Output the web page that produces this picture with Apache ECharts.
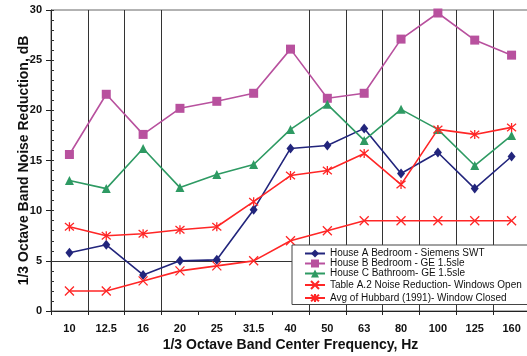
<!DOCTYPE html>
<html>
<head>
<meta charset="utf-8">
<script src="https://cdn.jsdelivr.net/npm/echarts@6/dist/echarts.min.js"></script>
<style>
  html, body { margin: 0; padding: 0; background: #fff; }
  #chart { width: 527px; height: 356px; }
</style>
</head>
<body>
<div id="chart"></div>
<script>
// 1/3 octave band centre frequencies (Hz)
const bands = ['10', '12.5', '16', '20', '25', '31.5', '40', '50', '63', '80', '100', '125', '160'];

// Noise reduction per band, dB
const houseA = [5.8, 6.6, 3.6, 5.0, 5.1, 10.1, 16.2, 16.5, 18.2, 13.7, 15.8, 12.2, 15.4];
const houseB = [15.6, 21.6, 17.6, 20.2, 20.9, 21.7, 26.1, 21.2, 21.7, 27.1, 29.7, 27.0, 25.5];
const houseC = [13.0, 12.2, 16.2, 12.3, 13.6, 14.6, 18.1, 20.6, 17.0, 20.1, 18.1, 14.5, 17.5];
const tableA2 = [2.0, 2.0, 3.0, 4.0, 4.5, 5.0, 7.0, 8.0, 9.0, 9.0, 9.0, 9.0, 9.0];
const hubbard = [8.4, 7.5, 7.7, 8.1, 8.4, 10.9, 13.5, 14.0, 15.7, 12.6, 18.1, 17.6, 18.3];

// Band boundaries that carry a vertical rule
const ruledBoundaries = [1, 2, 3, 7, 8, 9, 10, 11, 12];

const FONT = '"Liberation Sans", Arial, sans-serif';
const crossPath = 'path://M0,0L10,10M10,0L0,10';
const asteriskPath = 'path://M0,0L10,10M10,0L0,10M5,-1L5,11';

function lineSeries(name, data, color, symbol, size, extra) {
  const s = {
    name: name,
    type: 'line',
    data: data,
    symbol: symbol,
    symbolSize: size,
    lineStyle: { color: color, width: 1.6 },
    itemStyle: { color: color, borderColor: color, borderWidth: 0 },
    emphasis: { disabled: true },
    z: 3
  };
  return Object.assign(s, extra || {});
}

const chart = echarts.init(document.getElementById('chart'), null, { renderer: 'canvas' });

chart.setOption({
  animation: false,
  backgroundColor: '#fff',
  textStyle: { fontFamily: FONT },
  grid: {
    left: 51, top: 10, width: 479, height: 301,
    outerBoundsMode: 'none',
    containLabel: false,
    show: true, borderColor: '#666', borderWidth: 1, backgroundColor: 'transparent'
  },
  legend: {
    orient: 'vertical',
    left: 292, top: 245,
    padding: [3.5, 15, 0, 12],
    backgroundColor: '#fff',
    borderColor: '#444', borderWidth: 1,
    itemWidth: 20, itemHeight: 10, itemGap: 0,
    textStyle: { fontFamily: FONT, fontSize: 10, color: '#111', lineHeight: 10 },
    data: [
      'House A Bedroom - Siemens SWT',
      'House B Bedroom - GE 1.5sle',
      'House C Bathroom- GE 1.5sle',
      'Table A.2 Noise Reduction- Windows Open',
      'Avg of Hubbard (1991)- Window Closed'
    ]
  },
  xAxis: {
    type: 'category',
    data: bands,
    boundaryGap: true,
    name: '1/3 Octave Band Center Frequency, Hz',
    nameLocation: 'middle',
    nameGap: 27,
    nameMoveOverlap: false,
    nameTextStyle: { fontFamily: FONT, fontSize: 14, fontWeight: 'bold', color: '#111' },
    axisLine: { lineStyle: { color: '#222', width: 1 } },
    axisTick: { show: true, length: 4, lineStyle: { color: '#222' } },
    axisLabel: { fontFamily: FONT, fontSize: 11, fontWeight: 'bold', color: '#111', margin: 12 },
    splitLine: {
      show: true,
      interval: function (index) { return ruledBoundaries.indexOf(index) >= 0; },
      lineStyle: { color: '#333', width: 1 }
    }
  },
  yAxis: [
    {
      type: 'value',
      min: 0, max: 30, interval: 5,
      name: '1/3 Octave Band Noise Reduction, dB',
      nameLocation: 'middle',
      nameGap: 20,
      nameMoveOverlap: false,
      nameTextStyle: { fontFamily: FONT, fontSize: 14, fontWeight: 'bold', color: '#111' },
      axisLine: { show: true, lineStyle: { color: '#222', width: 1 } },
      axisTick: { show: true, length: 5, lineStyle: { color: '#222' } },
      axisLabel: { fontFamily: FONT, fontSize: 11, fontWeight: 'bold', color: '#111', margin: 9 },
      splitLine: { show: false }
    },
    {
      // unit ticks pointing into the plot
      type: 'value',
      position: 'left',
      min: 0, max: 30, interval: 1,
      axisLine: { show: false },
      axisTick: { show: true, inside: true, length: 3, lineStyle: { color: '#333', width: 1 } },
      axisLabel: { show: false },
      splitLine: { show: false }
    }
  ],
  series: [
    lineSeries('House A Bedroom - Siemens SWT', houseA, '#22257c', 'diamond', [8, 10], {
      markLine: {
        silent: true,
        symbol: 'none',
        label: { show: false },
        lineStyle: { color: '#333', width: 1, type: 'solid' },
        data: [{ yAxis: 5 }],
        z: 1
      }
    }),
    lineSeries('House B Bedroom - GE 1.5sle', houseB, '#b8519e', 'rect', 9),
    lineSeries('House C Bathroom- GE 1.5sle', houseC, '#2e9a63', 'triangle', 9),
    lineSeries('Table A.2 Noise Reduction- Windows Open', tableA2, '#ff2626', crossPath, 9,
      { itemStyle: { color: 'none', borderColor: '#ff2626', borderWidth: 1.3 } }),
    lineSeries('Avg of Hubbard (1991)- Window Closed', hubbard, '#ff2626', asteriskPath, 9,
      { itemStyle: { color: 'none', borderColor: '#ff2626', borderWidth: 1.3 } })
  ]
});
</script>
</body>
</html>
